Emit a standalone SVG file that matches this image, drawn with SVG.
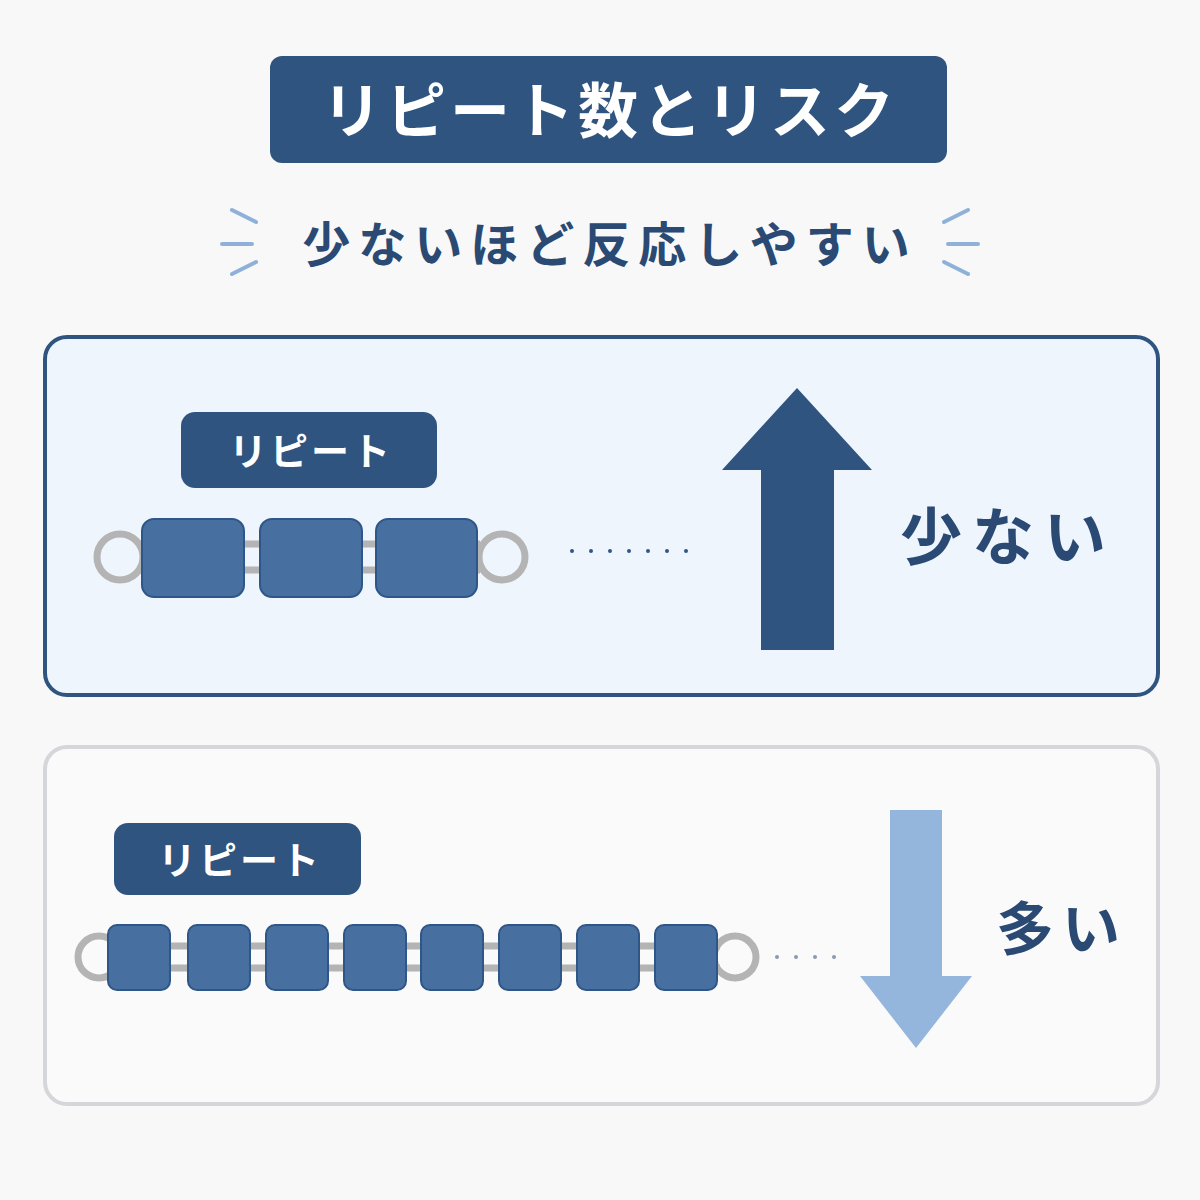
<svg xmlns="http://www.w3.org/2000/svg" width="1200" height="1200" viewBox="0 0 1200 1200">
<defs><style>
.jp{font-family:"Noto Sans CJK JP","Noto Sans",sans-serif;font-weight:700}
.bead{fill:#476f9f;stroke:#2f5688;stroke-width:2}
.rail{stroke:#b4b4b4;stroke-width:7;fill:none}
.dots{stroke:#2f5688;stroke-width:4;stroke-linecap:round;stroke-dasharray:0 19}
.spark{stroke:#8fb1d9;stroke-width:4;stroke-linecap:round}
</style></defs>
<rect width="1200" height="1200" fill="#f8f8f8"/>
<g id="title"><rect x="270" y="56" width="677" height="107" rx="12" fill="#2f5480"/>
<text x="610" y="133" text-anchor="middle" class="jp" font-size="60" letter-spacing="4" fill="#fff">リピート数とリスク</text></g>
<g id="subtitle"><text x="610" y="262" text-anchor="middle" class="jp" font-size="48" letter-spacing="8" fill="#2a4a74">少ないほど反応しやすい</text>
<line class="spark" x1="232" y1="210" x2="256" y2="222"/><line class="spark" x1="222" y1="244" x2="252" y2="244"/><line class="spark" x1="232" y1="274" x2="256" y2="262"/>
<line class="spark" x1="968" y1="210" x2="944" y2="222"/><line class="spark" x1="978" y1="244" x2="948" y2="244"/><line class="spark" x1="968" y1="274" x2="944" y2="262"/></g>
<g id="panel-few"><rect x="45" y="337" width="1113" height="358" rx="22" fill="#eef5fd" stroke="#2f5480" stroke-width="4"/>
<rect x="181" y="412" width="256" height="76" rx="14" fill="#2f5480"/>
<text x="311" y="465" text-anchor="middle" class="jp" font-size="38" letter-spacing="3" fill="#fff">リピート</text>
<circle class="rail" cx="120" cy="557" r="23"/><circle class="rail" cx="502" cy="557" r="23"/>
<line class="rail" x1="140" y1="544" x2="480" y2="544"/><line class="rail" x1="140" y1="570" x2="480" y2="570"/>
<rect class="bead" x="142" y="519" width="102" height="78" rx="12"/><rect class="bead" x="260" y="519" width="102" height="78" rx="12"/><rect class="bead" x="376" y="519" width="101" height="78" rx="12"/>
<line class="dots" x1="572" y1="551" x2="705" y2="551"/>
<polygon points="797,388 872,470 834,470 834,650 761,650 761,470 722,470" fill="#2f5480"/>
<text x="1008" y="560" text-anchor="middle" class="jp" font-size="62" letter-spacing="10" fill="#2a4a74">少ない</text></g>
<g id="panel-many"><rect x="45" y="747" width="1113" height="357" rx="22" fill="#fafafa" stroke="#d4d6d9" stroke-width="4"/>
<rect x="114" y="823" width="247" height="72" rx="14" fill="#2f5480"/>
<text x="240" y="874" text-anchor="middle" class="jp" font-size="38" letter-spacing="3" fill="#fff">リピート</text>
<circle class="rail" cx="99" cy="957" r="21"/><circle class="rail" cx="735" cy="957" r="21"/>
<line class="rail" x1="110" y1="946" x2="720" y2="946"/><line class="rail" x1="110" y1="968" x2="720" y2="968"/>
<rect class="bead" x="108" y="925" width="62" height="65" rx="9"/><rect class="bead" x="188" y="925" width="62" height="65" rx="9"/><rect class="bead" x="266" y="925" width="62" height="65" rx="9"/><rect class="bead" x="344" y="925" width="62" height="65" rx="9"/><rect class="bead" x="421" y="925" width="62" height="65" rx="9"/><rect class="bead" x="499" y="925" width="62" height="65" rx="9"/><rect class="bead" x="577" y="925" width="62" height="65" rx="9"/><rect class="bead" x="655" y="925" width="62" height="65" rx="9"/>
<line class="dots" x1="777" y1="957" x2="843" y2="957" stroke-width="3" stroke-dasharray="0 13" style="stroke:#8a9ab0"/>
<polygon points="890,810 942,810 942,976 972,976 916,1048 860,976 890,976" fill="#95b6dc"/>
<text x="1062" y="950" text-anchor="middle" class="jp" font-size="58" letter-spacing="8" fill="#2a4a74">多い</text></g>
</svg>
